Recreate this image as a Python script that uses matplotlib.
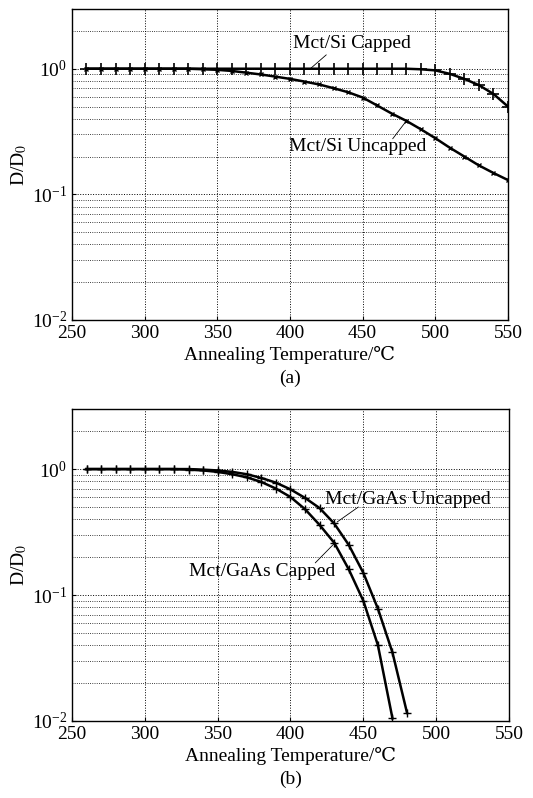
import numpy as np
import matplotlib
matplotlib.use("Agg")
import matplotlib.pyplot as plt
from matplotlib.ticker import LogLocator, NullFormatter

plt.rcParams['font.family'] = ['Liberation Serif', 'DejaVu Serif']
plt.rcParams['mathtext.fontset'] = 'stix'

temps = list(range(260, 551, 10))

si_capped = [1.0, 1.0, 1.0, 1.0, 1.0, 1.0, 1.0, 1.0, 1.0, 1.0,
             1.0, 1.0, 1.0, 1.0, 1.0, 1.0, 1.0, 1.0, 1.0, 1.0,
             1.0, 1.0, 1.0, 0.99, 0.97, 0.91, 0.83, 0.74, 0.63, 0.50]
si_uncapped = [1.0, 1.0, 1.0, 1.0, 1.0, 1.0, 1.0, 1.0, 0.99, 0.98,
               0.96, 0.93, 0.90, 0.865, 0.83, 0.79, 0.75, 0.70, 0.65, 0.59,
               0.51, 0.44, 0.385, 0.33, 0.28, 0.235, 0.20, 0.17, 0.148, 0.13]

gaas_temps_unc = list(range(260, 481, 10))
gaas_uncapped = [1.0, 1.0, 1.0, 1.0, 1.0, 1.0, 1.0, 1.0, 0.99, 0.975,
                 0.95, 0.91, 0.85, 0.78, 0.69, 0.59, 0.49, 0.37, 0.25, 0.15,
                 0.078, 0.035, 0.0116]
gaas_temps_cap = list(range(260, 471, 10))
gaas_capped = [1.0, 1.0, 1.0, 1.0, 1.0, 1.0, 1.0, 0.99, 0.975, 0.95,
               0.91, 0.86, 0.79, 0.70, 0.60, 0.48, 0.36, 0.26, 0.16, 0.09,
               0.04, 0.0105]

xticks = [250, 300, 350, 400, 450, 500, 550]

fig = plt.figure(figsize=(5.33, 7.98), dpi=100)
ax1 = fig.add_axes([0.135, 0.599, 0.818, 0.390])
ax2 = fig.add_axes([0.135, 0.0965, 0.820, 0.391])

def style(ax, label):
    ax.set_yscale('log')
    ax.set_xlim(250, 550)
    ax.set_ylim(0.01, 3)
    ax.set_xticks(xticks)
    ax.set_xticklabels([str(t) for t in xticks], fontsize=14)
    ax.yaxis.set_major_locator(LogLocator(base=10, numticks=10))
    ax.yaxis.set_minor_locator(LogLocator(base=10, subs=np.arange(2, 10), numticks=20))
    ax.yaxis.set_minor_formatter(NullFormatter())
    ax.tick_params(axis='both', which='both', direction='in', labelsize=14)
    ax.tick_params(axis='y', which='minor', length=0)
    ax.tick_params(axis='both', which='major', length=3)
    ax.grid(True, which='major', axis='both', linestyle=':', color='black', linewidth=0.7)
    ax.grid(True, which='minor', axis='y', linestyle=':', color='black', linewidth=0.6)
    ax.set_ylabel('D/D$_0$', fontsize=14, labelpad=2)
    ax.set_xlabel('Annealing Temperature/\u2103\n' + label, fontsize=14, labelpad=3, linespacing=1.45)
    for s in ax.spines.values():
        s.set_linewidth(1.0)

style(ax1, '(a)')
style(ax2, '(b)')

ax1.plot(temps, si_capped, color='black', lw=1.8, marker='+', ms=8, mew=1.2)
ax1.plot(temps, si_uncapped, color='black', lw=1.8, marker='x', ms=3, mew=1.0)
ax2.plot(gaas_temps_unc, gaas_uncapped, color='black', lw=1.8, marker='+', ms=6, mew=1.0)
ax2.plot(gaas_temps_cap, gaas_capped, color='black', lw=1.8, marker='+', ms=6, mew=1.0)

def label(ax, text, tx, ty, p0, p1):
    ax.text(tx, ty, text, fontsize=14, ha='center', va='center')
    ax.annotate('', xy=p1, xytext=p0,
                arrowprops=dict(arrowstyle='-', color='black', lw=0.6, shrinkA=0, shrinkB=0))

label(ax1, 'Mct/Si Capped', 442.6, 1.58, (414, 1.0), (425, 1.29))
label(ax1, 'Mct/Si Uncapped', 446.7, 0.24, (470.7, 0.277), (479, 0.37))
label(ax2, 'Mct/GaAs Uncapped', 480.5, 0.578, (432, 0.38), (446.6, 0.50))
label(ax2, 'Mct/GaAs Capped', 380.6, 0.155, (417, 0.18), (431, 0.263))

fig.savefig('out.png', dpi=100)
